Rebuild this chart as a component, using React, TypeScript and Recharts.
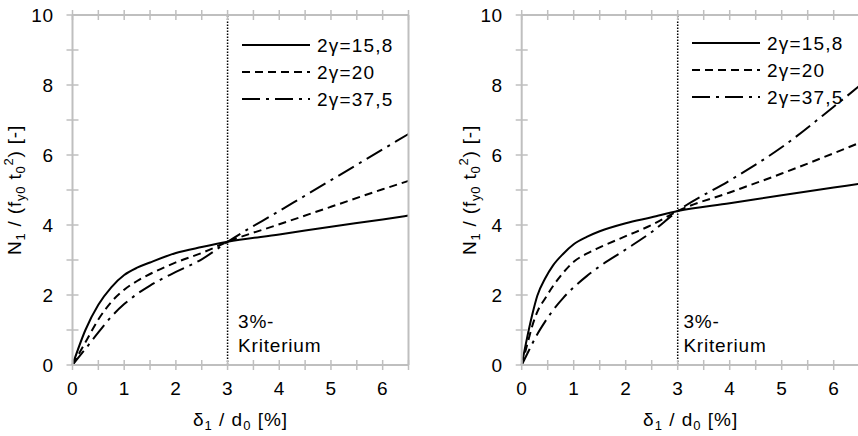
import React from 'react'
import { LineChart, Line, XAxis, YAxis, ReferenceLine, Legend } from 'recharts'

// Werte (x = δ1/d0 in %, y = N1/(fy0 t0²))
const leftX = [0, 0.25, 0.5, 0.75, 1, 1.25, 1.5, 2, 2.5, 3, 4, 5, 6, 6.5]
const leftG158 = [0, 1.0, 1.72, 2.22, 2.57, 2.78, 2.93, 3.2, 3.37, 3.52, 3.73, 3.95, 4.16, 4.27]
const leftG20 = [0, 0.65, 1.3, 1.8, 2.15, 2.4, 2.6, 2.93, 3.2, 3.52, 4.02, 4.52, 5.02, 5.26]
const leftG375 = [0, 0.46, 0.93, 1.38, 1.74, 2.03, 2.27, 2.66, 3.02, 3.52, 4.4, 5.28, 6.16, 6.6]

const rightX = [0, 0.1, 0.2, 0.3, 0.45, 0.6, 0.8, 1, 1.25, 1.5, 2, 2.5, 3, 4, 5, 6, 6.5]
const rightG158 = [0, 0.75, 1.42, 1.98, 2.47, 2.84, 3.18, 3.45, 3.66, 3.82, 4.05, 4.22, 4.4, 4.62, 4.85, 5.07, 5.18]
const rightG20 = [0, 0.55, 1.1, 1.52, 1.9, 2.25, 2.64, 2.95, 3.18, 3.36, 3.68, 4.0, 4.4, 4.93, 5.47, 6.05, 6.35]
const rightG375 = [0, 0.3, 0.6, 0.88, 1.24, 1.56, 1.92, 2.22, 2.54, 2.82, 3.3, 3.8, 4.4, 5.27, 6.22, 7.38, 7.98]

const xTicks = [0, 0.5, 1, 1.5, 2, 2.5, 3, 3.5, 4, 4.5, 5, 5.5, 6, 6.5]
const yTicks = [0, 1, 2, 3, 4, 5, 6, 7, 8, 9, 10]
const seriesNames = ['2γ=15,8', '2γ=20', '2γ=37,5']
const criterionLines = ['3%-', 'Kriterium']

const AXIS = '#bfbfbf'
const FONT = 19
const SUB = 13
const dashes = ['', '8 5', '18 6 3 6']
const keys = ['g158', 'g20', 'g375']

const buildRows = (xs: number[], a: number[], b: number[], c: number[]) =>
  xs.map((x, i) => ({ x, g158: a[i], g20: b[i], g375: c[i] }))

const leftRows = buildRows(leftX, leftG158, leftG20, leftG375)
const rightRows = buildRows(rightX, rightG158, rightG20, rightG375)

// Kreuzende Striche wie im Original
const BottomTick = ({ x, y, payload }: any) => (
  <g>
    <line x1={x} x2={x} y1={y - 5} y2={y + 5} stroke={AXIS} strokeWidth={1.5} />
    {Number.isInteger(payload.value) && (
      <text x={x} y={y + 30} textAnchor="middle" fontSize={FONT} letterSpacing={0.5} fill="#000">
        {payload.value}
      </text>
    )}
  </g>
)
const TopTick = ({ x, y }: any) => (
  <line x1={x} x2={x} y1={y - 5} y2={y + 5} stroke={AXIS} strokeWidth={1.5} />
)
const LeftTick = ({ x, y, payload }: any) => (
  <g>
    <line x1={x - 6} x2={x + 6} y1={y} y2={y} stroke={AXIS} strokeWidth={1.5} />
    {payload.value % 2 === 0 && (
      <text x={x - 19} y={y + 7} textAnchor="end" fontSize={FONT} letterSpacing={0.5} fill="#000">
        {payload.value}
      </text>
    )}
  </g>
)
const RightTick = ({ x, y }: any) => (
  <line x1={x - 6} x2={x + 6} y1={y} y2={y} stroke={AXIS} strokeWidth={1.5} />
)

const YLabel = ({ cx, cy }: { cx: number; cy: number }) => (
  <text transform={`translate(${cx},${cy}) rotate(-90)`} textAnchor="middle" fontSize={FONT} letterSpacing={0.8} fill="#000" dy={6}>
    N<tspan fontSize={SUB} dy={4}>1</tspan>
    <tspan dy={-4}> / (f</tspan>
    <tspan fontSize={SUB} dy={4}>y0</tspan>
    <tspan dy={-4}> t</tspan>
    <tspan fontSize={SUB} dy={4}>0</tspan>
    <tspan fontSize={SUB} dy={-12}>2</tspan>
    <tspan dy={8}>) [-]</tspan>
  </text>
)

const XLabel = ({ cx, y }: { cx: number; y: number }) => (
  <text x={cx} y={y} textAnchor="middle" fontSize={FONT} letterSpacing={1} fill="#000">
    δ<tspan fontSize={SUB} dy={4}>1</tspan>
    <tspan dy={-4}> / d</tspan>
    <tspan fontSize={SUB} dy={4}>0</tspan>
    <tspan dy={-4}> [%]</tspan>
  </text>
)

const LegendBox = () => (
  <svg width={170} height={90}>
    {seriesNames.map((name, i) => (
      <g key={name}>
        <line x1={2} x2={70} y1={15 + i * 27} y2={15 + i * 27} stroke="#000" strokeWidth={2} strokeDasharray={dashes[i] || undefined} />
        <text x={77} y={15 + i * 27} dy="0.36em" fontSize={FONT} letterSpacing={1.2} fill="#000">
          {name}
        </text>
      </g>
    ))}
  </svg>
)

interface PanelProps {
  rows: Array<{ x: number; g158: number; g20: number; g375: number }>
  left: number
  width: number
  margin: { top: number; right: number; bottom: number; left: number }
  yLabelX: number
  critOffset: number
  legendPos: { left: number; top: number }
}

const Panel = ({ rows, left, width, margin, yLabelX, critOffset, legendPos }: PanelProps) => {
  // Achsen haben 1px Breite/Höhe, sonst zeichnet Recharts sie nicht
  const m = { top: margin.top - 1, right: margin.right - 1, bottom: margin.bottom - 1, left: margin.left - 1 }
  const plotMid = margin.left + (width - margin.left - margin.right) / 2
  return (
    <div style={{ position: 'absolute', left, top: 0 }}>
      <LineChart width={width} height={436} data={rows} margin={m}>
        <XAxis
          dataKey="x"
          type="number"
          domain={[0, 6.5]}
          ticks={xTicks}
          interval={0}
          height={1}
          tickSize={0}
          tickMargin={0}
          tickLine={false}
          axisLine={{ stroke: AXIS, strokeWidth: 2 }}
          tick={<BottomTick />}
          label={{ content: () => <XLabel cx={plotMid} y={426} /> }}
        />
        <XAxis
          xAxisId="top"
          orientation="top"
          dataKey="x"
          type="number"
          domain={[0, 6.5]}
          ticks={xTicks}
          interval={0}
          height={1}
          tickSize={0}
          tickMargin={0}
          tickLine={false}
          axisLine={{ stroke: AXIS, strokeWidth: 2 }}
          tick={<TopTick />}
        />
        <YAxis
          type="number"
          domain={[0, 10]}
          ticks={yTicks}
          interval={0}
          width={1}
          tickSize={0}
          tickMargin={0}
          tickLine={false}
          axisLine={{ stroke: AXIS, strokeWidth: 2 }}
          tick={<LeftTick />}
          label={{ content: () => <YLabel cx={yLabelX} cy={190} /> }}
        />
        <YAxis
          yAxisId="right"
          orientation="right"
          type="number"
          domain={[0, 10]}
          ticks={yTicks}
          interval={0}
          width={1}
          tickSize={0}
          tickMargin={0}
          tickLine={false}
          axisLine={{ stroke: AXIS, strokeWidth: 2 }}
          tick={<RightTick />}
        />
        <ReferenceLine
          x={3}
          stroke="#000"
          strokeWidth={1.5}
          strokeDasharray="1.5 1.5"
          label={{
            content: ({ viewBox }: any) => (
              <g>
                {criterionLines.map((t, i) => (
                  <text key={t} x={viewBox.x + critOffset} y={328 + i * 23.5} fontSize={FONT} letterSpacing={0.8} fill="#000">
                    {t}
                  </text>
                ))}
              </g>
            )
          }}
        />
        {keys.map((k, i) => (
          <Line
            key={k}
            type="monotone"
            dataKey={k}
            name={seriesNames[i]}
            stroke="#000"
            strokeWidth={2}
            strokeDasharray={dashes[i] || undefined}
            dot={false}
            activeDot={false}
            isAnimationActive={false}
          />
        ))}
        <Legend
          layout="vertical"
          align="center"
          verticalAlign="middle"
          content={() => <LegendBox />}
          wrapperStyle={{ left: legendPos.left, top: legendPos.top, width: 170, height: 90, margin: 0 }}
        />
      </LineChart>
    </div>
  )
}

export default function App() {
  return (
    <div
      style={{
        position: 'absolute',
        left: 0,
        top: 0,
        width: 858,
        height: 436,
        overflow: 'hidden',
        background: '#fff',
        fontFamily: '"Liberation Sans", Arial, sans-serif'
      }}
    >
      <Panel
        rows={leftRows}
        left={0}
        width={430}
        margin={{ top: 15, right: 21.5, bottom: 71, left: 72.5 }}
        yLabelX={15}
        critOffset={10.5}
        legendPos={{ left: 240, top: 30 }}
      />
      <Panel
        rows={rightRows}
        left={430}
        width={440}
        margin={{ top: 15, right: 10.3, bottom: 71, left: 91.7 }}
        yLabelX={40}
        critOffset={5.7}
        legendPos={{ left: 259.7, top: 28 }}
      />
    </div>
  )
}
